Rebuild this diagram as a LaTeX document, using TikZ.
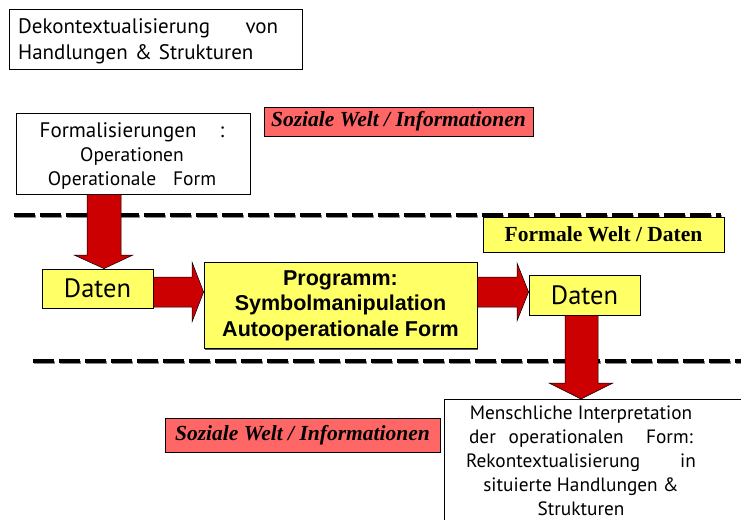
\documentclass[tikz,border=0pt]{standalone}
\usepackage{fontspec}
\setmainfont{PT Sans}
\newfontfamily\arialf{Liberation Sans}
\newfontfamily\timesf{Liberation Serif}
\usetikzlibrary{shadows}
\definecolor{boxyellow}{RGB}{255,255,102}
\definecolor{salmon}{RGB}{255,102,102}
\definecolor{arrowred}{RGB}{204,0,0}
\begin{document}
\begin{tikzpicture}[x=1pt,y=-1pt,
  boxshadow/.style={drop shadow={shadow xshift=1.3pt,shadow yshift=-1.3pt,fill=black!65,opacity=1}},
  plainbox/.style={draw=black,line width=0.8pt,fill=white,inner sep=0pt},
  yelbox/.style={draw=black,line width=0.8pt,fill=boxyellow,inner sep=0pt,boxshadow},
  redbox/.style={draw=black,line width=0.8pt,fill=salmon,inner sep=0pt,boxshadow},
  worldtitle/.style={font=\timesf\bfseries\fontsize{21.5}{24}\selectfont},
  socialtitle/.style={font=\timesf\bfseries\itshape\fontsize{21.5}{24}\selectfont},
  datentext/.style={font=\fontsize{26.5}{30}\selectfont},
  blockarrow/.style={fill=arrowred,draw=black,line width=0.5pt},
  worldline/.style={line width=3.6pt,dash pattern=on 21pt off 5pt},
  lineshadow/.style={line width=3.6pt,dash pattern=on 21pt off 5pt,black!45}]
\useasboundingbox (0,0) rectangle (741,519);

% boundary lines between the social and the formal world
\draw[lineshadow] (15,216.6) -- (722,216.6);
\draw[worldline] (14,215) -- (721,215);
\draw[lineshadow] (34,362.6) -- (745,362.6);
\draw[worldline] (33,361) -- (744,361);

% upper social world
\node[plainbox,minimum width=293,minimum height=60,anchor=north west] (dekonbox) at (9,9) {};
\node[anchor=west,inner sep=0pt,text width=260,align=left,font=\fontsize{21}{26}\selectfont]
  (dekon) at (18,41) {Dekontextualisierung\hfill von\\Handlungen \& Strukturen};

\node[redbox,socialtitle,minimum width=269,minimum height=29] (sozialoben) at (398.5,121.5)
  {Soziale Welt / Informationen};

\node[plainbox,minimum width=234,minimum height=81,align=center,
  font=\fontsize{19.5}{24}\selectfont] (formal) at (133,153.5) {};
\node[inner sep=0pt,align=center,font=\fontsize{19.5}{24}\selectfont] (formaltext) at (132,156)
  {{\fontsize{21}{24}\selectfont Formalisierungen\hspace{1.1em}:}\\Operationen\\Operationale\hspace{0.6em} Form};

% formal world
\node[yelbox,worldtitle,minimum width=241,minimum height=35] (formwelt) at (603.5,234.5)
  {Formale Welt / Daten};

\node[yelbox,datentext,minimum width=111,minimum height=39] (daten1) at (97.5,288.5) {Daten};
\node[yelbox,align=center,font=\arialf\bfseries\fontsize{21.5}{25.5}\selectfont,
  minimum width=273,minimum height=86] (prog) at (340.5,305.5)
  {Programm:\\Symbolmanipulation\\Autooperationale Form};
\node[yelbox,datentext,minimum width=111,minimum height=40] (daten2) at (584.5,295) {Daten};

% lower social world
\node[redbox,socialtitle,minimum width=275,minimum height=34] (sozialunten) at (302.5,435)
  {Soziale Welt / Informationen};

\node[plainbox,minimum width=320,minimum height=140,anchor=north west] (interpbox) at (444,399) {};
\node[inner sep=0pt,align=center,font=\fontsize{19.3}{24}\selectfont] (interp) at (581,461)
  {Menschliche Interpretation\\der\hspace{0.4em} operationalen\hspace{0.9em} Form:\\
   Rekontextualisierung\hspace{1.8em} in\\situierte Handlungen \&\\Strukturen};

% block arrows
\filldraw[blockarrow] (87,0 |- formal.south) -- (87,255) -- (74,255) -- (104,0 |- daten1.north)
  -- (133,255) -- (121,255) -- (121,0 |- formal.south) -- cycle;
\filldraw[blockarrow] (daten1.east |- 0,277) -- (192,277) -- (192,262) -- (prog.west |- 0,292)
  -- (192,322) -- (192,307) -- (daten1.east |- 0,307) -- cycle;
\filldraw[blockarrow] (prog.east |- 0,277) -- (517,277) -- (517,263) -- (daten2.west |- 0,292)
  -- (517,321) -- (517,307) -- (prog.east |- 0,307) -- cycle;
\filldraw[blockarrow] (565,0 |- daten2.south) -- (565,383) -- (549,383) -- (581,0 |- interpbox.north)
  -- (613,383) -- (598,383) -- (598,0 |- daten2.south) -- cycle;
\end{tikzpicture}
\end{document}
